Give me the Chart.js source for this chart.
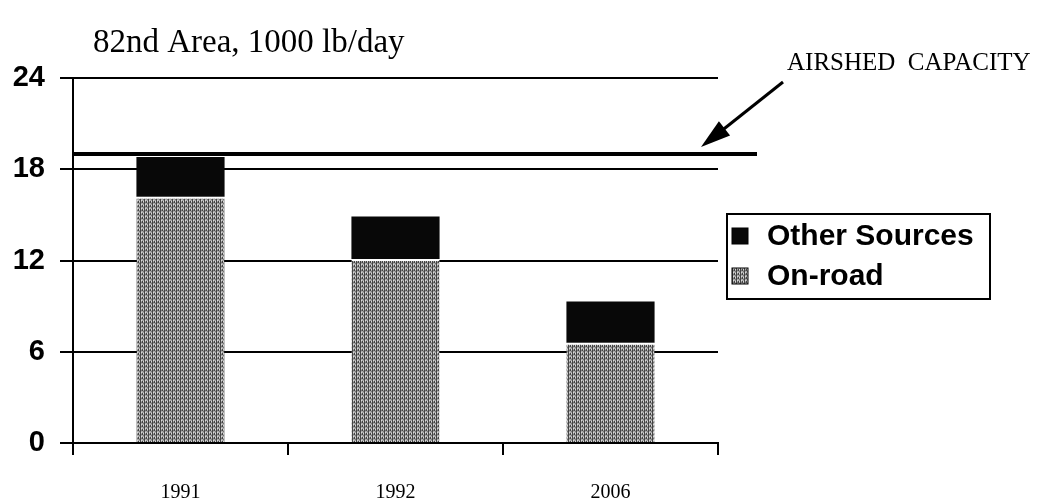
<!DOCTYPE html>
<html>
<head>
<meta charset="utf-8">
<script src="https://cdn.jsdelivr.net/npm/chart.js@4/dist/chart.umd.min.js"></script>
<style>
html,body{margin:0;padding:0;background:#fff;}
#wrap{width:1049px;height:500px;position:relative;}
</style>
</head>
<body>
<div id="wrap"><canvas id="c" width="1049" height="500"></canvas></div>
<script>
const categories = ["1991", "1992", "2006"];
const onRoad = [16.2, 12.1, 6.6];
const otherSources = [2.6, 2.8, 2.7];
const yTicks = [0, 6, 12, 18, 24];
const airshedCapacity = 19;
const titleText = "82nd Area, 1000 lb/day";
const capacityLabel = "AIRSHED  CAPACITY";

function makePattern() {
  const p = document.createElement('canvas');
  p.width = 4; p.height = 4;
  const g = p.getContext('2d');
  g.fillStyle = '#aaaaaa';
  g.fillRect(0, 0, 4, 4);
  g.fillStyle = '#444444';
  g.fillRect(0, 0, 1, 4);
  g.fillRect(2, 1, 1, 2);
  g.fillStyle = '#777777';
  g.fillRect(3, 3, 1, 1);
  g.fillRect(1, 2, 1, 1);
  g.fillStyle = '#d8d8d8';
  g.fillRect(1, 0, 1, 1);
  g.fillRect(3, 1, 1, 1);
  return document.getElementById('c').getContext('2d').createPattern(p, 'repeat');
}
const roadPattern = makePattern();

const decor = {
  id: 'decor',
  afterDraw(chart) {
    const ctx = chart.ctx;
    const ca = chart.chartArea;
    const y = chart.scales.y;
    ctx.save();
    // title
    ctx.fillStyle = '#000';
    ctx.font = '33px "Liberation Serif", "DejaVu Serif", serif';
    ctx.textAlign = 'left';
    ctx.textBaseline = 'alphabetic';
    ctx.fillText(titleText, 93, 52);
    // capacity line
    const cy = y.getPixelForValue(airshedCapacity);
    ctx.strokeStyle = '#000';
    ctx.lineWidth = 4;
    ctx.beginPath();
    ctx.moveTo(ca.left, cy);
    ctx.lineTo(757, cy);
    ctx.stroke();
    // arrow
    const tipX = 701, tipY = cy - 7;
    const sx = 783, sy = 82;
    ctx.lineWidth = 3;
    ctx.beginPath();
    ctx.moveTo(sx, sy);
    ctx.lineTo(tipX + 14, tipY - 11);
    ctx.stroke();
    const ang = Math.atan2(tipY - sy, tipX - sx);
    const hl = 30, hw = 9;
    const bx = tipX - hl * Math.cos(ang), by = tipY - hl * Math.sin(ang);
    ctx.beginPath();
    ctx.moveTo(tipX, tipY);
    ctx.lineTo(bx + hw * Math.sin(ang), by - hw * Math.cos(ang));
    ctx.lineTo(bx - hw * Math.sin(ang), by + hw * Math.cos(ang));
    ctx.closePath();
    ctx.fillStyle = '#000';
    ctx.fill();
    // capacity label
    ctx.font = '25px "Liberation Serif", "DejaVu Serif", serif';
    ctx.fillText(capacityLabel, 787, 70);
    // legend
    const lx = 727, ly = 214, lw = 263, lh = 85;
    ctx.lineWidth = 2;
    ctx.strokeRect(lx, ly, lw, lh);
    const items = [chart.data.datasets[1], chart.data.datasets[0]];
    const rows = [236, 276];
    ctx.font = 'bold 30px "Liberation Sans", Arial, sans-serif';
    ctx.textBaseline = 'middle';
    items.forEach((ds, i) => {
      const ry = rows[i];
      ctx.fillStyle = ds.backgroundColor;
      ctx.fillRect(732, ry - 8, 16, 16);
      ctx.lineWidth = 1;
      ctx.strokeStyle = '#000';
      ctx.strokeRect(732, ry - 8, 16, 16);
      ctx.fillStyle = '#000';
      ctx.fillText(ds.label, 767, ry + 1);
    });
    ctx.restore();
  }
};

new Chart(document.getElementById('c'), {
  type: 'bar',
  data: {
    labels: categories,
    datasets: [
      {
        label: 'On-road',
        data: onRoad,
        backgroundColor: roadPattern,
        borderColor: '#ffffff',
        borderWidth: {top: 2, left: 0, right: 0, bottom: 0},
        borderSkipped: false,
        barPercentage: 0.41,
        categoryPercentage: 1
      },
      {
        label: 'Other Sources',
        data: otherSources,
        backgroundColor: '#080808',
        borderWidth: 0,
        barPercentage: 0.41,
        categoryPercentage: 1
      }
    ]
  },
  options: {
    responsive: false,
    animation: false,
    devicePixelRatio: 1,
    layout: {padding: {top: 78, right: 331, left: 0, bottom: 0}},
    plugins: {legend: {display: false}, title: {display: false}, tooltip: {enabled: false}},
    scales: {
      x: {
        stacked: true,
        afterFit(s) { s.height = 57; },
        grid: {drawOnChartArea: false, drawTicks: true, tickLength: 12, tickColor: '#000', lineWidth: 2, offset: true},
        border: {display: true, color: '#000', width: 2},
        ticks: {color: '#000', padding: 26, font: {family: '"Liberation Serif", "DejaVu Serif", serif', size: 20}}
      },
      y: {
        stacked: true,
        min: 0, max: 24,
        afterFit(s) { s.width = 73; },
        afterBuildTicks(s) { s.ticks = yTicks.map(v => ({value: v})); },
        grid: {color: '#000', lineWidth: 2, drawTicks: true, tickLength: 13, tickColor: '#000'},
        border: {display: true, color: '#000', width: 2},
        ticks: {color: '#000', padding: 15, font: {family: '"Liberation Sans", Arial, sans-serif', size: 29, weight: 'bold'}}
      }
    }
  },
  plugins: [decor]
});
</script>
</body>
</html>
